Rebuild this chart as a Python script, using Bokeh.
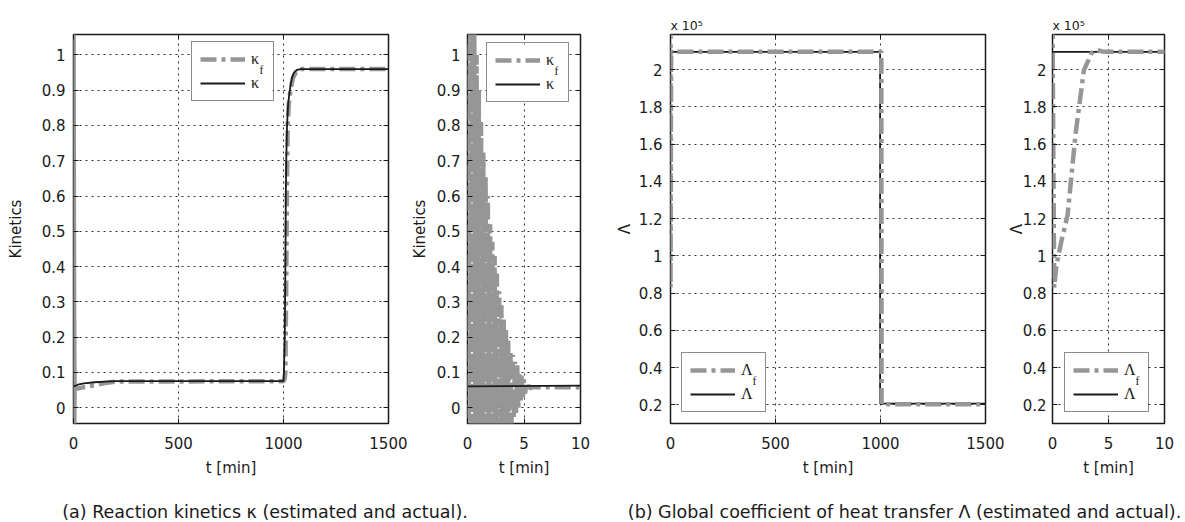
from bokeh.plotting import figure
from bokeh.models import (Range1d, FixedTicker, Legend, LegendItem, Label, BoxAnnotation,
                          LinearAxis, PrintfTickFormatter, CustomJSTickFormatter)
from bokeh.layouts import row, column
from bokeh.embed import file_html
from bokeh.resources import INLINE

# ---------------- data ----------------
# actual reaction kinetics kappa
kappa_t = [0, 20, 50, 100, 150, 200, 1000, 1002, 1006, 1009, 1011, 1013, 1017,
           1022, 1030, 1040, 1050, 1065, 1080, 1500]
kappa = [0.060, 0.065, 0.069, 0.072, 0.074, 0.075, 0.075, 0.10, 0.20, 0.40, 0.60,
         0.70, 0.80, 0.86, 0.90, 0.935, 0.950, 0.958, 0.960, 0.960]

# estimated kinetics kappa_f (strong oscillation during the first minutes)
kappa_f_t = [0.0, 0.1, 0.2, 0.3, 0.4, 0.5, 0.6, 0.7, 0.8, 0.9, 1.0, 1.1, 1.2, 1.3,
             1.4, 1.5, 1.6, 1.7, 1.8, 1.9, 2.0, 2.1, 2.2, 2.3, 2.4, 2.5, 2.6, 2.7,
             2.8, 2.9, 3.0, 3.1, 3.2, 3.3, 3.4, 3.5, 3.6, 3.7, 3.8, 3.9, 4.0, 4.1,
             4.2, 4.3, 4.4, 4.5, 4.6, 4.7, 4.8, 4.9, 5.0, 5.1, 5.2, 5.3, 5.4, 5.5,
             5.8, 10, 20, 50, 100, 150, 200, 1000, 1005, 1009, 1013, 1017, 1020,
             1025, 1033, 1045, 1060, 1075, 1500]
kappa_f = [1.20, -0.10, 1.15, -0.10, 1.10, -0.10, 1.07, -0.10, 1.00, -0.10, 0.90,
           -0.10, 0.81, -0.10, 0.73, -0.10, 0.66, -0.10, 0.60, -0.10, 0.52, -0.10,
           0.47, -0.10, 0.43, -0.10, 0.38, -0.10, 0.33, -0.10, 0.29, -0.10, 0.25,
           -0.10, 0.22, -0.10, 0.19, -0.07, 0.16, -0.05, 0.15, -0.03, 0.13, -0.015,
           0.12, 0.0, 0.10, 0.015, 0.09, 0.03, 0.08, 0.04, 0.07, 0.05, 0.064, 0.055,
           0.058, 0.058, 0.054, 0.058, 0.064, 0.070, 0.074, 0.075, 0.080, 0.10, 0.35,
           0.65, 0.80, 0.86, 0.90, 0.935, 0.952, 0.960, 0.960]

# actual global heat transfer coefficient Lambda
lam_t = [0, 998, 998, 1500]
lam = [209500, 209500, 20700, 20700]

# estimated Lambda_f
lam_f_t = [0, 0.15, 0.35, 0.8, 1.35, 2.07, 2.8, 3.5, 3.9, 4.6, 1000, 1004, 1005, 1500]
lam_f = [225000, 83000, 95000, 108000, 122000, 166000, 199500, 209000, 210500,
         209500, 209500, 209500, 20300, 20300]

kin_ticks = [0, 0.1, 0.2, 0.3, 0.4, 0.5, 0.6, 0.7, 0.8, 0.9, 1]
lam_ticks = [20000, 40000, 60000, 80000, 100000, 120000, 140000, 160000, 180000, 200000]
t_ticks_full = [0, 500, 1000, 1500]
t_ticks_zoom = [0, 5, 10]

kin_ylabel = "Kinetics"
lam_ylabel = "\u039b"
lam_multiplier = "x 10\u2075"
t_label = "t [min]"
kf_leg, k_leg = "\u03ba", "\u03ba"
lf_leg, l_leg = "\u039b", "\u039b"
caption_a = "(a) Reaction kinetics \u03ba (estimated and actual)."
caption_b = "(b) Global coefficient of heat transfer \u039b (estimated and actual)."

# ---------------- style ----------------
SANS = "DejaVu Sans"
SERIF = "Liberation Serif"
GRAY = "#969696"
BLACK = "#1a1a1a"
FH = 389
MBT, MBB = 34, 62
KIN_Y = (-0.045, 1.058)
LAM_Y = (10000, 218800)
LEG_H = 58


def make_fig(xr, yr, fw, mbl, mbr, xticks, yticks, ylabel, yfmt,
             tick_standoff, label_standoff, title=None):
    kw = {}
    if title:
        kw["title"] = title
    p = figure(frame_width=fw, frame_height=FH, x_range=Range1d(*xr),
               y_range=Range1d(*yr), output_backend="svg", toolbar_location=None,
               min_border_left=mbl, min_border_right=mbr, min_border_top=MBT,
               min_border_bottom=MBB, x_axis_label=t_label, y_axis_label=ylabel, **kw)
    p.background_fill_color = "white"
    p.border_fill_color = "white"
    p.outline_line_color = BLACK
    p.outline_line_width = 1.5
    p.outline_line_alpha = 1
    p.xaxis.ticker = FixedTicker(ticks=xticks)
    p.yaxis.ticker = FixedTicker(ticks=yticks)
    p.xaxis.formatter = PrintfTickFormatter(format="%g")
    p.yaxis.formatter = yfmt
    for ax in (p.xaxis[0], p.yaxis[0]):
        ax.major_tick_in = 5
        ax.major_tick_out = 0
        ax.minor_tick_in = 0
        ax.minor_tick_out = 0
        ax.major_tick_line_color = BLACK
        ax.axis_line_color = None
        ax.major_label_text_font = SANS
        ax.major_label_text_font_size = "15px"
        ax.major_label_text_color = BLACK
        ax.axis_label_text_font = SANS
        ax.axis_label_text_font_size = "15px"
        ax.axis_label_text_font_style = "normal"
        ax.axis_label_text_color = BLACK
    p.yaxis.axis_label_text_line_height = 1.0
    p.xaxis.major_label_standoff = 13
    p.xaxis.axis_label_standoff = 7
    p.yaxis.major_label_standoff = tick_standoff
    p.yaxis.axis_label_standoff = label_standoff
    # inward tick marks on the top and right sides of the box
    for place, ticks in (("above", xticks), ("right", yticks)):
        bx = LinearAxis(ticker=FixedTicker(ticks=ticks),
                        formatter=CustomJSTickFormatter(code="return '';"),
                        major_tick_in=5, major_tick_out=0,
                        minor_tick_in=0, minor_tick_out=0,
                        major_label_standoff=0, major_label_text_font_size="0px",
                        axis_line_color=None, major_tick_line_color=BLACK)
        p.add_layout(bx, place)
    p.grid.grid_line_color = BLACK
    p.grid.grid_line_dash = "2 4"
    p.grid.grid_line_width = 1
    p.grid.grid_line_alpha = 0.9
    if title:
        p.title.align = "left"
        p.title.offset = 0
        p.title.standoff = 4
        p.title.text_font = SANS
        p.title.text_font_size = "12.5px"
        p.title.text_font_style = "normal"
        p.title.text_color = BLACK
    return p


def to_data(xr, yr, fw, px, py_top):
    x = xr[0] + px * (xr[1] - xr[0]) / fw
    y = yr[1] - py_top * (yr[1] - yr[0]) / FH
    return x, y


def add_legend(p, xr, yr, fw, r_f, r, lab_f, lab, loc, lw, sym_w):
    width = 8 + 45 + 6 + lw + 8
    top = FH - loc[1] - LEG_H
    x0, y0 = to_data(xr, yr, fw, loc[0], top)
    x1, y1 = to_data(xr, yr, fw, loc[0] + width, top + LEG_H)
    # opaque white background of the legend box
    p.add_layout(BoxAnnotation(left=x0, right=x1, top=y0, bottom=y1,
                               fill_color="white", fill_alpha=1, line_color=None,
                               level="annotation"))
    fx, fy = to_data(xr, yr, fw, loc[0] + 59 + sym_w, top + 26)
    p.add_layout(Label(x=fx, y=fy, text="f", text_font=SERIF,
                       text_font_size="11.5px", text_color=BLACK,
                       text_baseline="alphabetic", level="overlay"))
    leg = Legend(items=[LegendItem(label=lab_f, renderers=[r_f]),
                        LegendItem(label=lab, renderers=[r])],
                 location=loc, padding=8, spacing=6, margin=0,
                 glyph_width=45, glyph_height=18, label_height=18,
                 label_width=lw, label_standoff=6,
                 border_line_color=BLACK, border_line_width=1.2,
                 background_fill_alpha=0,
                 label_text_font=SERIF, label_text_font_size="16px",
                 label_text_color=BLACK)
    p.add_layout(leg)


def lam_fmt():
    return CustomJSTickFormatter(code="return (tick / 1e5).toString();")


# panel 1: kinetics, full horizon
p1 = make_fig((0, 1500), KIN_Y, 315, 73, 19, t_ticks_full, kin_ticks, kin_ylabel,
              PrintfTickFormatter(format="%g"), 8, 14)
rf1 = p1.line(kappa_f_t, kappa_f, line_color=GRAY, line_width=4.5, line_dash="16 5 4 5")
r1 = p1.line(kappa_t, kappa, line_color=BLACK, line_width=1.8)
add_legend(p1, (0, 1500), KIN_Y, 315, rf1, r1, kf_leg, k_leg, (118, 322), 14, 9)

# panel 2: kinetics, first 10 min
p2 = make_fig((0, 10), KIN_Y, 113, 58, 29, t_ticks_zoom, kin_ticks, kin_ylabel,
              PrintfTickFormatter(format="%g"), 7, 5)
rf2 = p2.line(kappa_f_t, kappa_f, line_color=GRAY, line_width=4.5, line_dash="16 5 4 5")
r2 = p2.line(kappa_t, kappa, line_color=BLACK, line_width=1.8)
add_legend(p2, (0, 10), KIN_Y, 113, rf2, r2, kf_leg, k_leg, (19, 321), 14, 9)

# panel 3: Lambda, full horizon
p3 = make_fig((0, 1500), LAM_Y, 315, 61, 19, t_ticks_full, lam_ticks, lam_ylabel,
              lam_fmt(), 8, 2, title=lam_multiplier)
r3 = p3.line(lam_t, lam, line_color=BLACK, line_width=1.8)
rf3 = p3.line(lam_f_t, lam_f, line_color=GRAY, line_width=4.5, line_dash="16 5 4 5")
add_legend(p3, (0, 1500), LAM_Y, 315, rf3, r3, lf_leg, l_leg, (11, 11), 16, 12)

# panel 4: Lambda, first 10 min
p4 = make_fig((0, 10), LAM_Y, 112, 48, 12, t_ticks_zoom, lam_ticks, lam_ylabel,
              lam_fmt(), 6, -6, title=lam_multiplier)
r4 = p4.line(lam_t, lam, line_color=BLACK, line_width=1.8)
rf4 = p4.line(lam_f_t, lam_f, line_color=GRAY, line_width=4.5, line_dash="16 5 4 5")
add_legend(p4, (0, 10), LAM_Y, 112, rf4, r4, lf_leg, l_leg, (12, 11), 16, 12)

# captions
CW, CH = 1183, 35
cap = figure(width=CW, height=CH, x_range=Range1d(0, CW), y_range=Range1d(0, CH),
             output_backend="svg", toolbar_location=None, min_border=0,
             x_axis_location=None, y_axis_location=None)
cap.grid.visible = False
cap.outline_line_color = None
cap.background_fill_color = "white"
cap.border_fill_color = "white"
cap.add_layout(Label(x=264.5, y=9, text=caption_a, text_font=SANS,
                     text_font_size="17.5px", text_color=BLACK, text_align="center",
                     text_baseline="alphabetic"))
cap.add_layout(Label(x=904, y=9, text=caption_b, text_font=SANS,
                     text_font_size="17.5px", text_color=BLACK, text_align="center",
                     text_baseline="alphabetic"))

layout = column(row(p1, p2, p3, p4, spacing=0), cap, spacing=0)
open("out.html", "w").write(file_html(layout, INLINE))
